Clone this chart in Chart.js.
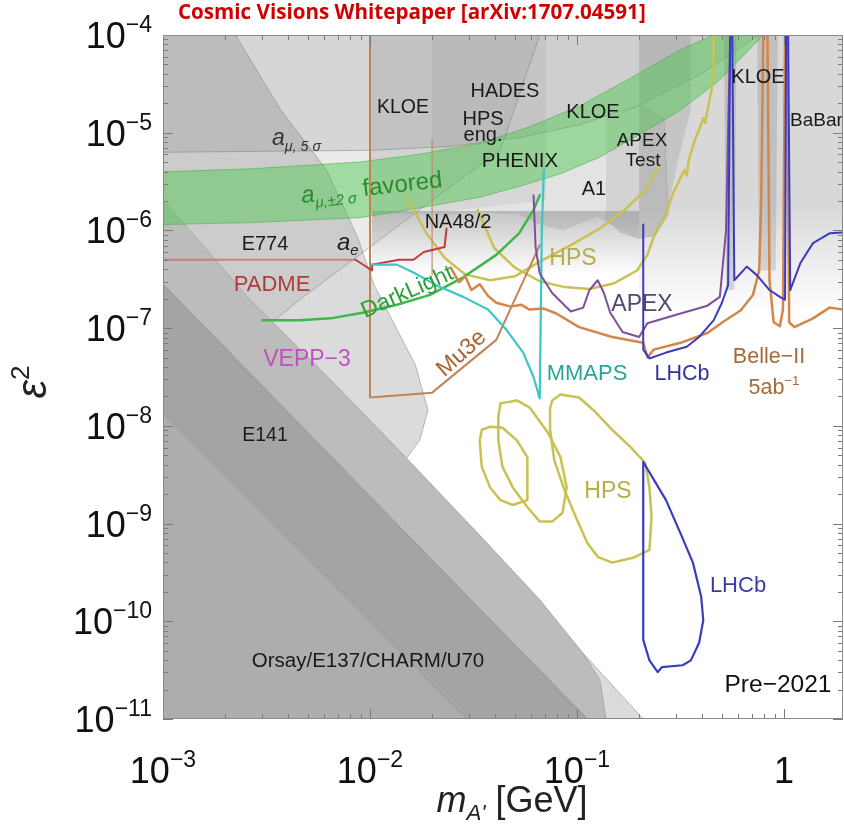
<!DOCTYPE html>
<html>
<head>
<meta charset="utf-8">
<script src="https://cdn.jsdelivr.net/npm/chart.js@4.4.1/dist/chart.umd.min.js"></script>
<style>
  html, body { margin: 0; padding: 0; background: #fff; }
</style>
</head>
<body>
<canvas id="chart" width="844" height="826"></canvas>
<script>
// every point below is [log10(m_A' / GeV), log10(eps^2)]

var massTicks = [1e-3, 1e-2, 1e-1, 1];
var massTickText = [['10', '−3'], ['10', '−2'], ['10', '−1'], ['1', '']];
var epsTicks = [1e-4, 1e-5, 1e-6, 1e-7, 1e-8, 1e-9, 1e-10, 1e-11];
var epsTickText = [['10', '−4'], ['10', '−5'], ['10', '−6'], ['10', '−7'], ['10', '−8'], ['10', '−9'], ['10', '−10'], ['10', '−11']];

// excluded regions (grey)
var amu5 = [[-3, -4], [-0.12, -4], [-0.41, -4.41], [-0.70, -4.72], [-0.99, -4.92], [-1.28, -5.05], [-1.61, -5.14], [-2.00, -5.18], [-3, -5.20]];
var aeBound = [[-3, -4], [-1.18, -4], [-1.37, -5.18], [-1.68, -5.66], [-2.05, -6.25], [-2.34, -6.71], [-2.52, -7.02], [-3, -7.07]];
var midRegion = [[-2, -4], [-0.45, -4], [-0.45, -4.77], [-0.50, -5.18], [-0.57, -5.84], [-0.62, -6.05], [-0.70, -6.08], [-0.79, -6.00], [-0.90, -5.86], [-1.07, -6.00], [-1.18, -5.94], [-1.28, -5.84], [-1.47, -5.82], [-1.64, -5.84], [-2, -5.82]];
var hadesPatch = [[-1.70, -4], [-1.15, -4], [-1.15, -5.69], [-1.70, -5.82]];
var apexTestPatch = [[-0.86, -4.87], [-0.70, -4.72], [-0.58, -4.85], [-0.56, -5.84], [-0.62, -6.05], [-0.70, -6.08], [-0.79, -6.02], [-0.86, -5.87]];
var na48Strip = [[-1.99, -5.80], [-0.70, -5.80], [-0.70, -6.45], [-1.99, -6.45]];
var babarStrip = [[-0.70, -4], [0.285, -4], [0.285, -6.85], [-0.70, -6.85]];
var kloeA = [[-0.29, -4], [-0.23, -4], [-0.24, -6.61], [-0.28, -6.61]];
var kloeB = [[-0.13, -4], [-0.03, -4], [-0.04, -6.41], [-0.12, -6.41]];
var dumpOuter = [[-3, -4], [-2.65, -4], [-2.43, -4.77], [-2.21, -5.38], [-2.06, -6.07], [-1.98, -6.56], [-1.88, -6.97], [-1.78, -7.38], [-1.72, -7.84], [-1.76, -8.15], [-1.83, -8.35], [-1.47, -9.17], [-0.68, -11], [-3, -11]];
var u70 = [[-3, -5.69], [-2.87, -6.00], [-2.58, -6.71], [-2.19, -7.53], [-1.86, -8.25], [-1.47, -9.12], [-1.18, -9.78], [-0.97, -10.33], [-0.89, -10.60], [-0.86, -11], [-3, -11]];
var e137 = [[-3, -6.55], [-1.89, -8.96], [-1.37, -10.09], [-0.95, -11], [-3, -11]];
var charm = [[-3, -7.87], [-1.53, -11], [-0.95, -11], [-1.37, -10.09], [-1.89, -8.96], [-3, -6.55]];

// g-2 favoured band
var amuBand = [[-3, -5.40], [-2.58, -5.37], [-2.05, -5.30], [-1.76, -5.22], [-1.47, -5.11], [-1.23, -4.94], [-0.99, -4.73], [-0.74, -4.44], [-0.50, -4.15], [-0.34, -4.00],
  [-0.10, -4.00], [-0.31, -4.46], [-0.50, -4.77], [-0.70, -5.02], [-0.89, -5.25], [-1.08, -5.42], [-1.28, -5.55], [-1.47, -5.66], [-1.76, -5.77], [-2.05, -5.87], [-2.58, -5.92], [-3, -5.94]];

// future reach curves
var padme = [[-3, -6.30], [-2.07, -6.30], [-1.99, -6.41], [-1.99, -6.35], [-1.86, -6.30], [-1.79, -6.30], [-1.74, -6.22], [-1.64, -6.17], [-1.63, -5.98]];
var darkLight = [[-2.52, -6.92], [-2.34, -6.92], [-2.19, -6.90], [-2.03, -6.84], [-1.87, -6.76], [-1.71, -6.66], [-1.55, -6.48], [-1.39, -6.25], [-1.28, -6.03], [-1.21, -5.79], [-1.18, -5.64]];
var mu3e = [[-2, -4], [-2, -7.71], [-1.70, -7.66], [-1.39, -7.12], [-1.18, -6.15]];
var na48Edge = [[-1.70, -5.07], [-1.70, -6.45]];
var mmaps = [[-1.99, -6.35], [-1.87, -6.35], [-1.79, -6.43], [-1.68, -6.56], [-1.55, -6.68], [-1.43, -6.81], [-1.34, -7.02], [-1.26, -7.25], [-1.21, -7.50], [-1.18, -7.72], [-1.17, -6.00], [-1.16, -5.38]];
var hpsA = [[-1.82, -5.67], [-1.73, -6.02], [-1.64, -6.28], [-1.54, -6.45], [-1.42, -6.51], [-1.30, -6.47], [-1.18, -6.32], [-1.03, -6.15], [-0.89, -5.98], [-0.77, -5.79], [-0.67, -5.59], [-0.60, -5.33]];
var hpsB = [[-1.48, -5.79], [-1.40, -6.18], [-1.30, -6.38], [-1.18, -6.52], [-1.06, -6.58], [-0.94, -6.60], [-0.82, -6.54], [-0.71, -6.41], [-0.66, -6.25], [-0.63, -6.07], [-0.60, -5.94], [-0.57, -5.84], [-0.54, -5.64], [-0.50, -5.46], [-0.48, -5.38], [-0.47, -5.44], [-0.46, -5.28], [-0.43, -5.07], [-0.41, -4.97], [-0.39, -4.85], [-0.38, -4.90], [-0.37, -4.77], [-0.35, -4.56], [-0.34, -4.36], [-0.34, -4.00]];
var hpsIsland1 = [[-1.42, -8.01], [-1.36, -8.02], [-1.29, -8.15], [-1.24, -8.32], [-1.24, -8.55], [-1.24, -8.76], [-1.31, -8.81], [-1.37, -8.76], [-1.42, -8.63], [-1.46, -8.42], [-1.47, -8.15], [-1.46, -8.04], [-1.42, -8.01]];
var hpsIsland2 = [[-1.37, -7.77], [-1.29, -7.74], [-1.23, -7.81], [-1.14, -8.07], [-1.08, -8.32], [-1.05, -8.63], [-1.07, -8.89], [-1.12, -8.98], [-1.18, -8.98], [-1.24, -8.83], [-1.31, -8.63], [-1.36, -8.42], [-1.38, -8.15], [-1.38, -7.91], [-1.37, -7.77]];
var hpsIsland3 = [[-1.12, -7.74], [-1.08, -7.68], [-0.99, -7.71], [-0.92, -7.84], [-0.83, -8.04], [-0.74, -8.22], [-0.67, -8.38], [-0.65, -8.63], [-0.64, -8.93], [-0.65, -9.27], [-0.73, -9.35], [-0.83, -9.40], [-0.90, -9.34], [-0.95, -9.20], [-1.00, -8.96], [-1.06, -8.66], [-1.11, -8.35], [-1.13, -8.04], [-1.13, -7.82], [-1.12, -7.74]];
var apex = [[-1.21, -5.64], [-1.20, -6.17], [-1.18, -6.44], [-1.12, -6.64], [-1.03, -6.83], [-0.97, -6.79], [-0.94, -6.61], [-0.90, -6.51], [-0.87, -6.64], [-0.84, -6.84], [-0.78, -7.04], [-0.70, -7.09], [-0.66, -6.95], [-0.50, -6.85], [-0.37, -6.77], [-0.31, -6.68], [-0.28, -6.00], [-0.27, -4.97], [-0.26, -4]];
var belle2 = [[-1.61, -6.38], [-1.57, -6.53], [-1.54, -6.47], [-1.51, -6.61], [-1.47, -6.55], [-1.43, -6.67], [-1.39, -6.74], [-1.32, -6.78], [-1.27, -6.76], [-1.23, -6.81], [-1.16, -6.80], [-1.10, -6.85], [-0.99, -6.99], [-0.83, -7.09], [-0.68, -7.15], [-0.66, -7.30], [-0.63, -7.22], [-0.50, -7.15], [-0.37, -7.05], [-0.29, -6.93], [-0.21, -6.82], [-0.15, -6.66], [-0.12, -6.41], [-0.11, -5.69], [-0.10, -4], [-0.08, -4], [-0.07, -6.51], [-0.05, -6.94], [-0.02, -6.98], [-0.005, -6.81], [0.005, -4], [0.015, -4], [0.025, -6.94], [0.05, -6.99], [0.14, -6.90], [0.22, -6.79], [0.285, -6.81]];
var lhcbHigh = [[-0.68, -5.94], [-0.68, -7.22], [-0.65, -7.31], [-0.57, -7.25], [-0.47, -7.19], [-0.41, -7.09], [-0.34, -6.92], [-0.30, -6.74], [-0.27, -6.56], [-0.26, -4], [-0.25, -4], [-0.24, -6.51], [-0.18, -6.37], [-0.13, -6.46], [-0.07, -6.61], [-0.02, -6.68], [0.005, -6.71], [0.01, -4], [0.02, -4], [0.03, -6.61], [0.08, -6.33], [0.14, -6.13], [0.22, -6.03], [0.285, -6.02]];
var lhcbLow = [[-0.68, -8.37], [-0.57, -8.76], [-0.50, -9.10], [-0.44, -9.40], [-0.40, -9.75], [-0.39, -9.99], [-0.41, -10.22], [-0.45, -10.40], [-0.49, -10.45], [-0.59, -10.47], [-0.61, -10.52], [-0.65, -10.40], [-0.68, -10.19], [-0.68, -8.37]];

function pts(arr) {
  return arr.map(function (p) { return {x: Math.pow(10, p[0]), y: Math.pow(10, p[1])}; });
}
function region(arr, fill, edge) {
  return {data: pts(arr), fill: 'shape', backgroundColor: fill, borderColor: edge || 'rgba(0,0,0,0)', borderWidth: edge ? 1 : 0};
}
function curve(arr, col, w) {
  return {data: pts(arr), fill: false, borderColor: col, borderWidth: w, borderJoinStyle: 'round', borderCapStyle: 'round'};
}
// grey that fades out downwards between two eps^2 values
function fade(top, bottom, alpha) {
  return function (c) {
    var ch = c.chart;
    if (!ch.chartArea) return 'rgba(0,0,0,0)';
    var y = ch.scales.y;
    var g = ch.ctx.createLinearGradient(0, y.getPixelForValue(top), 0, y.getPixelForValue(bottom));
    g.addColorStop(0, 'rgba(135,135,135,' + alpha + ')');
    g.addColorStop(0.55, 'rgba(135,135,135,' + (alpha * 0.45) + ')');
    g.addColorStop(1, 'rgba(135,135,135,0)');
    return g;
  };
}

var greyEdge = 'rgba(135,135,135,0.55)';
var olive = '#c9c152';

var padmeLine = curve(padme, '#c23b3b', 2);
padmeLine.segment = {borderColor: function (c) { return c.p0DataIndex === 0 ? 'rgba(190,95,95,0.65)' : undefined; }};

// back to front
var layers = [
  region(amu5, 'rgba(115,115,115,0.17)', greyEdge),
  region(aeBound, 'rgba(115,115,115,0.14)', greyEdge),
  region(midRegion, 'rgba(115,115,115,0.2)'),
  region(hadesPatch, 'rgba(115,115,115,0.1)'),
  region(apexTestPatch, 'rgba(115,115,115,0.14)', 'rgba(150,150,150,0.4)'),
  region(na48Strip, fade(Math.pow(10, -5.85), Math.pow(10, -6.45), 0.45)),
  region(babarStrip, fade(Math.pow(10, -5.75), Math.pow(10, -6.85), 0.32)),
  region(kloeA, 'rgba(110,110,110,0.25)'),
  region(kloeB, 'rgba(110,110,110,0.22)'),
  region(dumpOuter, 'rgba(115,115,115,0.26)', greyEdge),
  region(u70, '#bcbcbc', '#a8a8a8'),
  region(e137, '#adadad', '#a0a0a0'),
  region(charm, '#a4a4a4', '#9a9a9a'),
  region(amuBand, 'rgba(70,200,70,0.45)', 'rgba(60,170,60,0.5)'),
  curve(hpsIsland1, olive, 2.5),
  curve(hpsIsland2, olive, 2.5),
  curve(hpsIsland3, olive, 2.5),
  curve(hpsA, olive, 2.5),
  curve(hpsB, olive, 2.5),
  curve(na48Edge, 'rgba(190,140,110,0.8)', 1.5),
  curve(mu3e, '#c28355', 2),
  padmeLine,
  curve(darkLight, '#3cb84a', 2.5),
  curve(mmaps, '#3cc6c6', 2.2),
  curve(apex, '#7d4f9c', 2),
  curve(belle2, '#d3864a', 2.5),
  curve(lhcbHigh, '#3b3bc0', 2),
  curve(lhcbLow, '#3b3bc0', 2.2)
];
layers.forEach(function (d, i) {
  d.order = layers.length - i;
  d.pointRadius = 0;
  d.tension = 0;
});

var FONT = '"Liberation Sans", Arial, sans-serif';

// parts: [text, size factor, baseline shift, italic]
function rich(ctx, parts, x, y, size, color, align, rot) {
  ctx.save();
  ctx.translate(x, y);
  if (rot) ctx.rotate(rot * Math.PI / 180);
  var w = 0;
  parts.forEach(function (p) {
    ctx.font = (p[3] ? 'italic ' : '') + (size * p[1]) + 'px ' + FONT;
    w += ctx.measureText(p[0]).width;
  });
  var cx = align === 'left' ? 0 : (align === 'right' ? -w : -w / 2);
  ctx.fillStyle = color;
  ctx.textBaseline = 'alphabetic';
  ctx.textAlign = 'left';
  parts.forEach(function (p) {
    ctx.font = (p[3] ? 'italic ' : '') + (size * p[1]) + 'px ' + FONT;
    ctx.fillText(p[0], cx, p[2]);
    cx += ctx.measureText(p[0]).width;
  });
  ctx.restore();
}
function label(ctx, t, x, y, size, color, rot) {
  rich(ctx, [[t, 1, 0, false]], x, y + size * 0.36, size, color || '#1a1a1a', 'center', rot);
}

var decor = {
  id: 'decor',
  beforeDraw: function (chart) {
    var ctx = chart.ctx;
    ctx.save();
    ctx.fillStyle = '#ffffff';
    ctx.fillRect(0, 0, chart.width, chart.height);
    ctx.restore();
  },
  afterDatasetsDraw: function (chart) {
    var ctx = chart.ctx, a = chart.chartArea, xs = chart.scales.x, ys = chart.scales.y;
    var L = a.left, T = a.top;
    // region names
    rich(ctx, [['a', 1, 0, true], ['μ, 5 σ', 0.62, 6, true]], L + 109, T + 110, 23, '#333', 'left');
    rich(ctx, [['a', 1, 0, true], ['μ,±2 σ', 0.62, 6, true], [' favored', 1, 0, false]], L + 139, T + 168, 24, '#2c8c2c', 'left', -6.5);
    rich(ctx, [['a', 1, 0, true], ['e', 0.62, 5, true]], L + 174, T + 215, 24, '#222', 'left');
    label(ctx, 'E774', L + 102, T + 208, 20);
    label(ctx, 'PADME', L + 109, T + 248, 22, '#b03a3a');
    label(ctx, 'VEPP−3', L + 144, T + 323, 23, '#c24fc2');
    label(ctx, 'E141', L + 102, T + 399, 19.5);
    label(ctx, 'Orsay/E137/CHARM/U70', L + 205, T + 625, 20.5);
    label(ctx, 'KLOE', L + 240, T + 71, 19.5);
    label(ctx, 'HADES', L + 342, T + 55, 20);
    label(ctx, 'HPS', L + 320, T + 83, 20);
    label(ctx, 'eng.', L + 320, T + 99, 20);
    label(ctx, 'PHENIX', L + 357, T + 125, 20.5);
    label(ctx, 'KLOE', L + 430, T + 76, 20);
    label(ctx, 'APEX', L + 479, T + 104, 19);
    label(ctx, 'Test', L + 480, T + 124, 19);
    label(ctx, 'A1', L + 431, T + 153, 20);
    label(ctx, 'NA48/2', L + 295, T + 186, 20);
    label(ctx, 'KLOE', L + 595, T + 41, 20);
    rich(ctx, [['BaBar', 1, 0, false]], L + 627, T + 91, 19, '#1a1a1a', 'left');
    label(ctx, 'HPS', L + 410, T + 222, 23, '#b5ad45');
    label(ctx, 'DarkLight', L + 247, T + 255, 23, '#2e9e3a', -24);
    label(ctx, 'Mu3e', L + 303, T + 315, 23, '#a8642e', -42);
    label(ctx, 'MMAPS', L + 424, T + 337, 22, '#25a59b');
    label(ctx, 'APEX', L + 479, T + 268, 23, '#55466e');
    label(ctx, 'LHCb', L + 519, T + 337, 21.5, '#333399');
    label(ctx, 'Belle−II', L + 606, T + 320, 21.5, '#a8683a');
    rich(ctx, [['5ab', 1, 0, false], ['−1', 0.62, -9, false]], L + 611, T + 359, 21.5, '#a8683a', 'center');
    label(ctx, 'HPS', L + 445, T + 455, 23, '#b5ad45');
    label(ctx, 'LHCb', L + 575, T + 549, 22, '#3a3aa8');
    label(ctx, 'Pre−2021', L + 615, T + 648, 24.5, '#111');

    // inward ticks on all four sides
    ctx.save();
    ctx.strokeStyle = '#7a7a7a';
    ctx.lineWidth = 1;
    ctx.beginPath();
    var d, k, v, p, len;
    for (d = -3; d <= 0; d++) {
      for (k = 1; k <= 9; k++) {
        v = k * Math.pow(10, d);
        if (v > xs.max) break;
        p = Math.round(xs.getPixelForValue(v)) + 0.5;
        len = k === 1 ? 10 : 5;
        ctx.moveTo(p, a.bottom); ctx.lineTo(p, a.bottom - len);
        ctx.moveTo(p, a.top); ctx.lineTo(p, a.top + len);
      }
    }
    for (d = -11; d <= -4; d++) {
      for (k = 1; k <= 9; k++) {
        v = k * Math.pow(10, d);
        if (v > ys.max * 1.0001) break;
        p = Math.round(ys.getPixelForValue(v)) + 0.5;
        len = k === 1 ? 10 : 5;
        ctx.moveTo(a.left, p); ctx.lineTo(a.left + len, p);
        ctx.moveTo(a.right, p); ctx.lineTo(a.right - len, p);
      }
    }
    ctx.stroke();
    ctx.strokeStyle = '#8a8a8a';
    ctx.strokeRect(a.left + 0.5, a.top + 0.5, a.right - a.left - 1, a.bottom - a.top - 1);
    ctx.restore();
  },
  afterDraw: function (chart) {
    var ctx = chart.ctx, a = chart.chartArea, xs = chart.scales.x, ys = chart.scales.y;
    massTicks.forEach(function (v, i) {
      rich(ctx, [[massTickText[i][0], 1, 0, false], [massTickText[i][1], 0.64, -16, false]],
        xs.getPixelForValue(v), a.bottom + 64, 36, '#111', 'center');
    });
    epsTicks.forEach(function (v, i) {
      rich(ctx, [[epsTickText[i][0], 1, 0, false], [epsTickText[i][1], 0.64, -16, false]],
        a.left - 11, ys.getPixelForValue(v) + 13, 36, '#111', 'right');
    });
    rich(ctx, [['m', 1, 0, true], ['A\'', 0.62, 8, true], [' [GeV]', 1, 0, false]], 512, 812, 36, '#222', 'center');
    rich(ctx, [['ε', 1, 0, true], ['2', 0.62, -17, false]], 46, 382, 42, '#222', 'center', -90);
    // title
    var title = 'Cosmic Visions Whitepaper [arXiv:1707.04591]';
    ctx.save();
    ctx.font = 'bold 20px "Open Sans", ' + FONT;
    var s = 20 * 467 / ctx.measureText(title).width;
    ctx.font = 'bold ' + s.toFixed(1) + 'px "Open Sans", ' + FONT;
    ctx.fillStyle = '#d10000';
    ctx.textBaseline = 'middle';
    ctx.fillText(title, 178, 13);
    ctx.restore();
  }
};

new Chart(document.getElementById('chart').getContext('2d'), {
  type: 'line',
  data: {datasets: layers},
  options: {
    responsive: false,
    animation: false,
    devicePixelRatio: 1,
    events: [],
    layout: {padding: {left: 163, right: 1, top: 35, bottom: 107}},
    plugins: {legend: {display: false}, tooltip: {enabled: false}},
    scales: {
      x: {type: 'logarithmic', min: 1e-3, max: Math.pow(10, 0.285), display: false},
      y: {type: 'logarithmic', min: 1e-11, max: 1e-4, display: false}
    }
  },
  plugins: [decor]
});
</script>
</body>
</html>
